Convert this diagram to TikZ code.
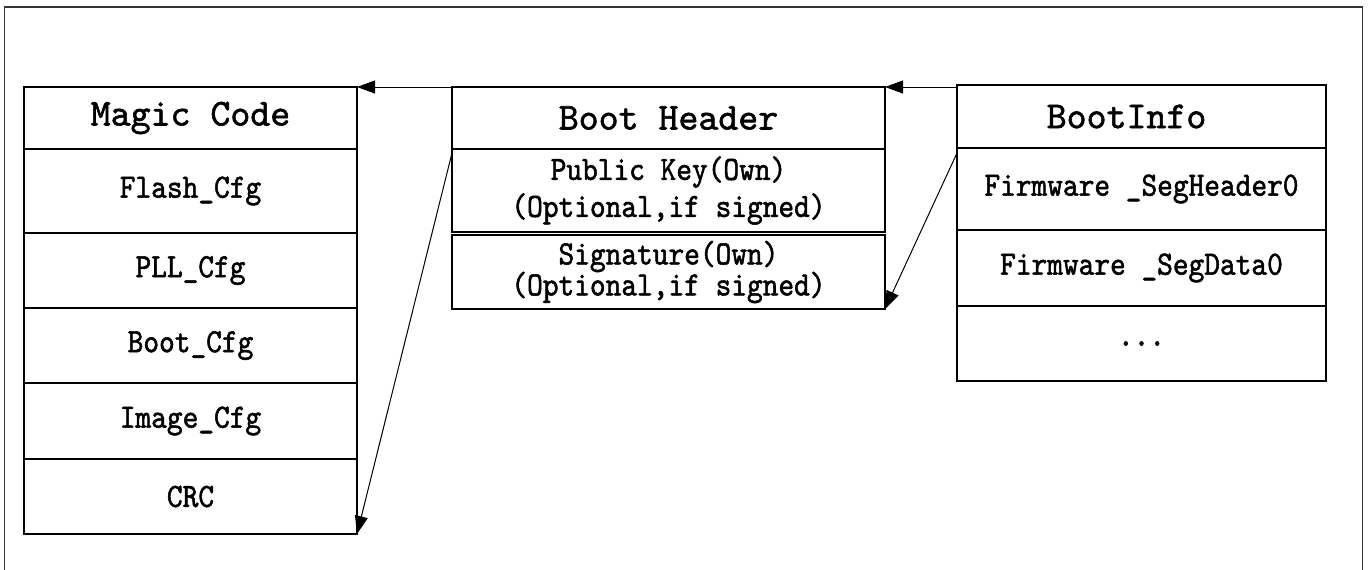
\documentclass[tikz,border=0pt]{standalone}
\usepackage{fontspec}
\usetikzlibrary{arrows.meta}
\newfontfamily\monohead{lmmono10-regular.otf}[FakeBold=1.5]
\newfontfamily\monocell{lmmono10-regular.otf}[FakeStretch=0.88,FakeBold=1.5]
\tikzset{
  box/.style={draw, line width=1.2pt, anchor=north west, inner sep=0pt, outer sep=0pt, align=center},
  lcol/.style={box, minimum width=333pt},
  mcol/.style={box, minimum width=433pt},
  rcol/.style={box, minimum width=369pt},
  head/.style={font=\monohead\fontsize{38}{44}\selectfont},
  item/.style={font=\monocell\fontsize{34}{37}\selectfont},
  link/.style={line width=1pt, -{Triangle[length=18pt,width=13pt]}},
  frame/.style={line width=1.5pt, black!80}
}
\begin{document}
\begin{tikzpicture}[x=1pt,y=-1pt]
\useasboundingbox (0,0) rectangle (1368,570);
% outer frame, open at the bottom
\draw[frame] (4.5,570) -- (4.5,7) -- (1362.7,7) -- (1362.7,570);

% left column: Magic Code structure
\node[lcol, head, minimum height=62pt] (mc)   at (24,87)  {Magic Code};
\node[lcol, item, minimum height=84pt] (fl)   at (24,149) {Flash\_Cfg};
\node[lcol, item, minimum height=75pt] (pll)  at (24,233) {PLL\_Cfg};
\node[lcol, item, minimum height=75pt] (boot) at (24,308) {Boot\_Cfg};
\node[lcol, item, minimum height=76pt] (img)  at (24,383) {Image\_Cfg};
\node[lcol, item, minimum height=75pt] (crc)  at (24,459) {CRC};

% middle column: Boot Header
\node[mcol, head, minimum height=62pt] (bh)  at (452,87)  {Boot Header};
\node[mcol, item, minimum height=83pt] (pk)  at (452,149) {Public Key(Own)\\(Optional,if signed)};
\node[mcol, item, minimum height=74pt] (sig) at (452,235) {Signature(Own)\\[-6pt](Optional,if signed)};

% right column: BootInfo
\node[rcol, head, minimum height=63pt] (bi)   at (957,85)  {\hspace*{-30pt}BootInfo};
\node[rcol, item, minimum height=82pt] (fsh)  at (957,148) {Firmware \_SegHeader0};
\node[rcol, item, minimum height=76pt] (fsd)  at (957,230) {Firmware \_SegData0};
\node[rcol, item, minimum height=75pt] (more) at (957,306) {...};

% connectors
\draw[link] (bh.north west) -- (mc.north east);
\draw[link] (bi.north west |- bh.north east) -- (bh.north east);
\draw[link] ([yshift=-4pt]pk.north west) -- (crc.south east);
\draw[link] ([yshift=-5pt]fsh.north west) -- (sig.south east);
\end{tikzpicture}
\end{document}
